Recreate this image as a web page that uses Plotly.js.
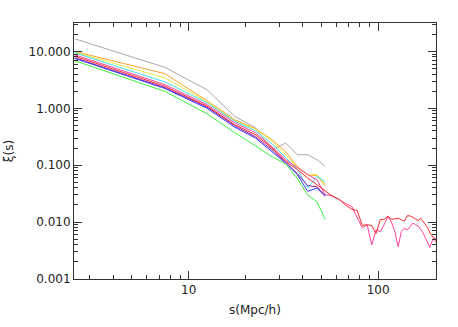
<!DOCTYPE html>
<html>
<head>
<meta charset="utf-8">
<script src="https://cdn.plot.ly/plotly-3.0.1.min.js"></script>
<style>html,body{margin:0;padding:0;background:#fff;}#chart{width:458px;height:327px;}</style>
</head>
<body>
<div id="chart"></div>
<script>
// separation bins (Mpc/h)
const sShort = [2.5, 7.5, 12.5, 17.5, 22.5, 27.5, 32.5, 37.5, 42.5, 47.5, 52.5];
const sTail = [57.5, 62.5, 67.5, 72.5, 77.5, 82.5, 87.5, 92.5, 97.5, 102.5, 107.5, 112.5, 117.5, 122.5, 127.5, 132.5, 137.5, 142.5, 147.5, 152.5, 157.5, 162.5, 167.5, 172.5, 177.5, 182.5, 187.5, 192.5, 197.5, 202.5];

const xiGray   = [16.7, 5.24, 2.12, 0.721, 0.456, 0.187, 0.245, 0.153, 0.153, 0.125, 0.096];
const xiOrange = [10.0, 4.06, 1.36, 0.631, 0.438, 0.281, 0.173, 0.0942, 0.0681, 0.0654, 0.0436];
const xiYellow = [9.76, 3.41, 1.31, 0.605, 0.430, 0.270, 0.153, 0.0904, 0.0695, 0.0681, 0.0454];
const xiCyan   = [9.49, 2.90, 1.25, 0.593, 0.404, 0.239, 0.136, 0.0834, 0.0403, 0.0635, 0.0519];
const xiPurple = [7.75, 2.30, 1.05, 0.494, 0.317, 0.187, 0.113, 0.0710, 0.0436, 0.0419, 0.0291];
const xiBlue   = [7.54, 2.23, 1.00, 0.466, 0.301, 0.175, 0.109, 0.0681, 0.0347, 0.0397, 0.0283];
const xiGreen  = [6.87, 1.98, 0.803, 0.372, 0.220, 0.141, 0.106, 0.0579, 0.0297, 0.0229, 0.0112];

const xiPinkShort = [8.75, 2.60, 1.16, 0.558, 0.372, 0.211, 0.125, 0.0904, 0.0681, 0.0556, 0.0303];
const xiPinkTail  = [0.029, 0.0243, 0.0211, 0.0189, 0.0118, 0.0079, 0.0090, 0.0040, 0.0073, 0.0068, 0.0090, 0.0125, 0.0101, 0.0068, 0.0037, 0.0068, 0.0078, 0.0073, 0.0083, 0.0096, 0.0090, 0.0085, 0.0075, 0.0065, 0.0053, 0.0044, 0.0036, 0.0046, 0.0053, 0.0051];
const xiRedShort  = [8.24, 2.43, 1.09, 0.515, 0.343, 0.203, 0.117, 0.0834, 0.0596, 0.0454, 0.0347];
const xiRedTail   = [0.0285, 0.0249, 0.0198, 0.0169, 0.0159, 0.0087, 0.0090, 0.0087, 0.0063, 0.0110, 0.0112, 0.0127, 0.0112, 0.0114, 0.0117, 0.0110, 0.0104, 0.0130, 0.0128, 0.0122, 0.0114, 0.0106, 0.0117, 0.0101, 0.0090, 0.0080, 0.0065, 0.0058, 0.0051, 0.0044];

const yTickVals = [0.001, 0.01, 0.1, 1, 10];
const yTickText = ['0.001', '0.010', '0.100', '1.000', '10.000'];
const xTickVals = [10, 100];
const xTickText = ['10', '100'];

const sLong = sShort.concat(sTail);
const series = [
  {y: xiGray, c: '#a8a8a8', x: sShort},
  {y: xiOrange, c: '#ffa030', x: sShort},
  {y: xiYellow, c: '#e6ea40', x: sShort},
  {y: xiCyan, c: '#40e0f0', x: sShort},
  {y: xiPinkShort.concat(xiPinkTail), c: '#ff4098', x: sLong},
  {y: xiRedShort.concat(xiRedTail), c: '#ff2a2a', x: sLong},
  {y: xiPurple, c: '#9a1a9a', x: sShort},
  {y: xiBlue, c: '#3a3aff', x: sShort},
  {y: xiGreen, c: '#3af03a', x: sShort}
];

const traces = series.map(s => ({
  x: s.x, y: s.y, type: 'scatter', mode: 'lines',
  line: {color: s.c, width: 1}, hoverinfo: 'skip', showlegend: false
}));

const font = {family: 'DejaVu Sans, sans-serif', size: 12, color: '#222'};
const axisCommon = {
  type: 'log', showgrid: false, zeroline: false, showline: true,
  linecolor: '#333', linewidth: 1, mirror: 'ticks', ticks: 'inside',
  ticklen: 8, tickcolor: '#333', tickwidth: 1,
  minor: {ticks: 'inside', ticklen: 4, tickcolor: '#333', dtick: 'D1', showgrid: false},
  tickfont: font
};

const layout = {
  width: 458, height: 327,
  margin: {l: 74, r: 22, t: 23, b: 48},
  paper_bgcolor: '#fff', plot_bgcolor: '#fff',
  showlegend: false,
  xaxis: Object.assign({}, axisCommon, {
    range: [Math.log10(2.48), Math.log10(202)],
    tickmode: 'array', tickvals: xTickVals, ticktext: xTickText,
    title: {text: 's(Mpc/h)', font: font, standoff: 9}
  }),
  yaxis: Object.assign({}, axisCommon, {
    range: [-3, 1.5],
    tickmode: 'array', tickvals: yTickVals, ticktext: yTickText,
    title: {text: 'ξ(s)', font: font, standoff: 12}
  })
};

Plotly.newPlot('chart', traces, layout, {staticPlot: true, displayModeBar: false});
</script>
</body>
</html>
